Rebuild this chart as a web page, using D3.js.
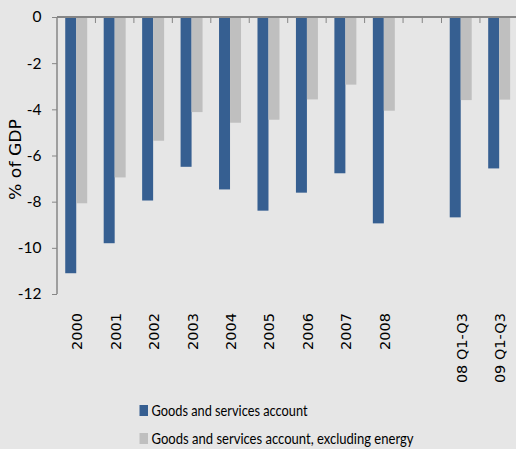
<!DOCTYPE html>
<html>
<head>
<meta charset="utf-8">
<script src="https://cdn.jsdelivr.net/npm/d3@7"></script>
<style>
  html, body { margin: 0; padding: 0; background: #e6e6e6; }
  svg { display: block; }
</style>
</head>
<body>
<script>
// Goods and services trade balance, % of GDP
const categories = ["2000", "2001", "2002", "2003", "2004", "2005", "2006", "2007", "2008", "", "08 Q1-Q3", "09 Q1-Q3"];
const goodsServices = [-11.1, -9.8, -7.95, -6.49, -7.47, -8.39, -7.61, -6.77, -8.94, null, -8.68, -6.56];
const excludingEnergy = [-8.07, -6.95, -5.36, -4.12, -4.58, -4.45, -3.57, -2.93, -4.06, null, -3.6, -3.58];
const seriesNames = ["Goods and services account", "Goods and services account, excluding energy"];
const seriesColors = ["#365F91", "#BFBFBF"];
const yTicks = [0, -2, -4, -6, -8, -10, -12];
const yTitle = "% of GDP";

const W = 516, H = 449;
const svg = d3.select("body").append("svg").attr("width", W).attr("height", H);
svg.append("rect").attr("width", W).attr("height", H).attr("fill", "#e6e6e6");

const plotLeft = 57, plotTop = 17, plotBottom = 294, step = 38.45;
const x = d3.scaleBand().domain(categories).range([plotLeft, plotLeft + step * categories.length]).padding(0);
const inner = d3.scaleBand().domain([0, 1]).range([0, x.bandwidth()]).paddingInner(0).paddingOuter(0.75);
const y = d3.scaleLinear().domain([-12, 0]).range([plotBottom, plotTop]);

const series = [goodsServices, excludingEnergy];
const rows = [];
categories.forEach((c, i) => series.forEach((s, k) => {
  if (s[i] != null) rows.push({ c, k, v: s[i] });
}));

// bars hang down from the zero line
svg.append("g").selectAll("rect").data(rows).join("rect")
  .attr("x", d => x(d.c) + inner(d.k))
  .attr("width", inner.bandwidth())
  .attr("y", y(0))
  .attr("height", d => y(d.v) - y(0))
  .attr("fill", d => seriesColors[d.k]);

const axisColor = "#868686";

// value axis on the left
const yAxis = svg.append("g").attr("transform", `translate(${plotLeft},0)`)
  .call(d3.axisLeft(y).tickValues(yTicks).tickSize(5).tickFormat(d3.format("d")));
yAxis.select(".domain").attr("stroke", axisColor).attr("stroke-width", 1.5).attr("d", `M0,${plotTop}V${plotBottom}`);
yAxis.selectAll(".tick line").attr("stroke", axisColor);
yAxis.selectAll(".tick text")
  .attr("x", -15.5)
  .attr("font-family", "Lato, 'Open Sans', sans-serif")
  .attr("font-size", 15.5)
  .attr("fill", "#000")
  .text(d => d === 0 ? "0" : "-" + Math.abs(d));

// category axis along the zero line, ticks pointing down
const tickXs = categories.slice(1).map(c => x(c));
tickXs.push(x("") + x.bandwidth() / 2);
svg.append("g").selectAll("line").data(tickXs).join("line")
  .attr("x1", d => d).attr("x2", d => d)
  .attr("y1", y(0)).attr("y2", y(0) + 6)
  .attr("stroke", axisColor).attr("stroke-width", 1);
svg.append("line")
  .attr("x1", plotLeft).attr("x2", W)
  .attr("y1", y(0)).attr("y2", y(0))
  .attr("stroke", axisColor).attr("stroke-width", 2);

// rotated category labels
svg.append("g").selectAll("text").data(categories.filter(c => c !== "")).join("text")
  .attr("transform", c => `translate(${x(c) + x.bandwidth() / 2 + 1},313) rotate(-90)`)
  .attr("text-anchor", "end")
  .attr("dominant-baseline", "central")
  .attr("font-family", "'DejaVu Sans', Verdana, sans-serif")
  .attr("font-size", 14.5)
  .attr("fill", "#000")
  .text(c => c);

// axis title
svg.append("text")
  .attr("transform", `translate(15.5,${(plotTop + plotBottom) / 2 + 4}) rotate(-90)`)
  .attr("text-anchor", "middle")
  .attr("dominant-baseline", "central")
  .attr("font-family", "'DejaVu Sans', Verdana, sans-serif")
  .attr("font-size", 15)
  .attr("textLength", 81)
  .attr("lengthAdjust", "spacingAndGlyphs")
  .attr("fill", "#000")
  .text(yTitle);

// legend
const legendLengths = [156, 262];
const legend = svg.append("g").selectAll("g").data(seriesNames).join("g")
  .attr("transform", (d, i) => `translate(139.5,${405 + i * 28})`);
legend.append("rect")
  .attr("width", 8.5).attr("height", 11)
  .attr("fill", (d, i) => seriesColors[i]);
legend.append("text")
  .attr("x", 12).attr("y", 10.5)
  .attr("font-family", "Lato, 'Open Sans', sans-serif")
  .attr("font-size", 16)
  .attr("textLength", (d, i) => legendLengths[i])
  .attr("lengthAdjust", "spacingAndGlyphs")
  .attr("fill", "#000")
  .text(d => d);
</script>
</body>
</html>
